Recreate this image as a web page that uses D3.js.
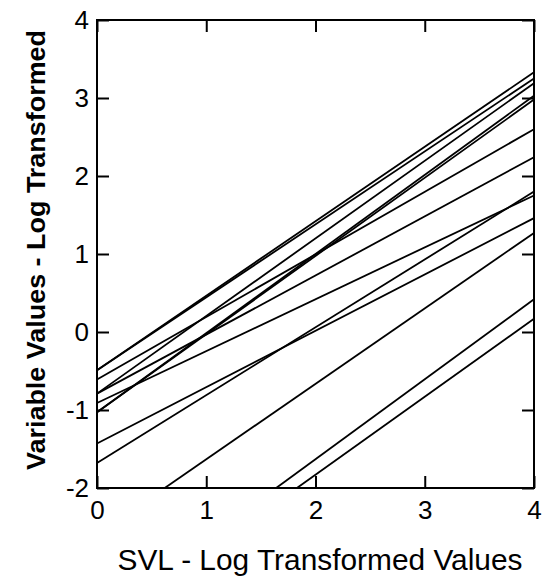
<!DOCTYPE html>
<html>
<head>
<meta charset="utf-8">
<script src="https://cdn.jsdelivr.net/npm/d3@7"></script>
<style>
  body { margin: 0; background: #fff; }
  text { font-family: "Liberation Sans", Arial, sans-serif; fill: #000; }
</style>
</head>
<body>
<div id="chart"></div>
<script>
const width = 543;
const height = 577;

const marginLeft = 97;
const marginRight = 9;
const marginTop = 20;
const marginBottom = 89;

// each regression line: start point (x, y) and value at x = 4
const lineStartX = [0, 0, 0, 0, 0, 0, 0, 0, 0, 0, 0.62, 1.64, 1.83];
const lineStartY = [-0.49, -0.49, -0.61, -0.79, -0.79, -1.03, -1.03, -0.91, -1.43, -1.68, -2, -2, -2];
const lineEndY = [3.33, 3.25, 2.60, 3.19, 2.24, 3.03, 2.98, 1.75, 1.46, 1.80, 1.27, 0.42, 0.17];

const xTicks = [0, 1, 2, 3, 4];
const yTicks = [-2, -1, 0, 1, 2, 3, 4];

const svg = d3.select("#chart").append("svg")
  .attr("width", width)
  .attr("height", height);

const x = d3.scaleLinear().domain([0, 4]).range([marginLeft, width - marginRight]);
const y = d3.scaleLinear().domain([-2, 4]).range([height - marginBottom, marginTop]);

// lines
const lines = lineStartX.map((d, i) => [[d, lineStartY[i]], [4, lineEndY[i]]]);

svg.append("g")
  .selectAll("path")
  .data(lines)
  .join("path")
    .attr("fill", "none")
    .attr("stroke", "#000")
    .attr("stroke-width", 1.8)
    .attr("d", d3.line().x(d => x(d[0])).y(d => y(d[1])));

// plain hyphen for negatives, like the original
const fmt = d => String(d);

// axes with ticks pointing inward
const axisB = svg.append("g")
  .attr("transform", `translate(0, ${y(-2)})`)
  .call(d3.axisBottom(x).tickValues(xTicks).tickSize(-12).tickPadding(13).tickFormat(fmt));

const axisL = svg.append("g")
  .attr("transform", `translate(${x(0)}, 0)`)
  .call(d3.axisLeft(y).tickValues(yTicks).tickSize(-12).tickPadding(8).tickFormat(fmt));

const axisT = svg.append("g")
  .attr("transform", `translate(0, ${y(4)})`)
  .call(d3.axisTop(x).tickValues(xTicks).tickSize(-12).tickFormat(""));

const axisR = svg.append("g")
  .attr("transform", `translate(${x(4)}, 0)`)
  .call(d3.axisRight(y).tickValues(yTicks).tickSize(-12).tickFormat(""));

[axisB, axisL, axisT, axisR].forEach(g => {
  g.select(".domain").remove();
  g.selectAll(".tick line").attr("stroke", "#000").attr("stroke-width", 2);
  g.selectAll(".tick text").attr("font-size", 26).attr("font-family", "Liberation Sans, Arial, sans-serif");
});

// frame
svg.append("rect")
  .attr("x", x(0))
  .attr("y", y(4))
  .attr("width", x(4) - x(0))
  .attr("height", y(-2) - y(4))
  .attr("fill", "none")
  .attr("stroke", "#000")
  .attr("stroke-width", 2);

// axis titles
svg.append("text")
  .text("SVL - Log Transformed Values")
  .attr("x", 320)
  .attr("y", 570)
  .attr("text-anchor", "middle")
  .attr("font-size", 29)
  .attr("textLength", 405)
  .attr("lengthAdjust", "spacingAndGlyphs");

svg.append("text")
  .text("Variable Values - Log Transformed")
  .attr("transform", `translate(45, 250) rotate(-90)`)
  .attr("text-anchor", "middle")
  .attr("font-weight", "bold")
  .attr("font-size", 26)
  .attr("textLength", 440)
  .attr("lengthAdjust", "spacingAndGlyphs");
</script>
</body>
</html>
